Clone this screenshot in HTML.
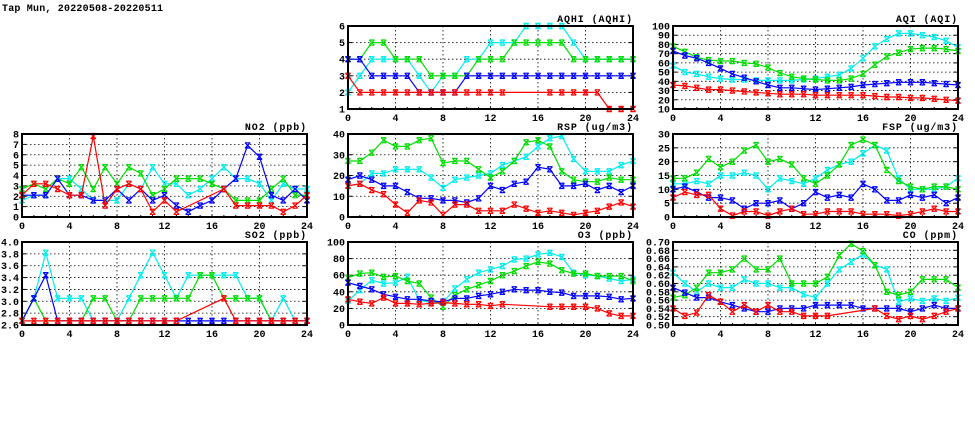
<!DOCTYPE html>
<html><head><meta charset="utf-8"><style>
html,body{margin:0;padding:0;background:#fff;width:975px;height:447px;overflow:hidden}
svg{display:block}
text{font-family:"Liberation Mono",monospace;font-weight:bold;font-size:10px;fill:#000}
text.ptitle{letter-spacing:0.9px}
</style></head><body>
<svg id="chart" width="975" height="447" xmlns="http://www.w3.org/2000/svg">
<text x="2" y="11" style="font-size:10px;letter-spacing:0.2px">Tap Mun, 20220508-20220511</text>
</svg>
<script>
const hours=[0,1,2,3,4,5,6,7,8,9,10,11,12,13,14,15,16,17,18,19,20,21,22,23,24];
const xTicks=[0,4,8,12,16,20,24];
const N=null;
const aqhiRed=[3,2,2,2,2,2,2,2,2,2,2,2,2,2,N,N,N,2,2,2,2,2,1,1,1];
const aqhiBlue=[4,4,3,3,3,3,2,2,2,2,3,3,3,3,3,3,3,3,3,3,3,3,3,3,3];
const aqhiGreen=[4,4,5,5,4,4,4,3,3,3,3,4,4,4,5,5,5,5,5,4,4,4,4,4,4];
const aqhiCyan=[2,3,4,4,4,4,3,2,3,3,4,4,5,5,5,6,6,6,6,5,4,4,4,4,4];
const aqhiTicks=[1,2,3,4,5,6];
const aqiRed=[36,35,33,31,31,30,29,28,27,26,26,26,25,25,25,25,25,24,23,23,22,22,21,20,19];
const aqiBlue=[73,68,65,60,54,48,44,40,36,33,33,32,31,32,33,34,36,37,38,39,39,39,38,37,36];
const aqiGreen=[78,72,66,63,62,62,60,59,55,49,45,43,42,41,41,43,48,58,67,71,75,76,76,75,73];
const aqiCyan=[57,50,48,45,43,42,42,41,41,41,41,42,43,45,47,54,65,78,86,92,92,90,88,84,77];
const aqiTicks=[10,20,30,40,50,60,70,80,90,100];
const no2Red=[2.1,3.2,3.2,2.7,2.1,2.1,7.8,1.1,2.7,3.2,2.7,0.5,1.6,0.5,N,N,N,2.7,1.1,1.1,1.1,1.1,0.5,1.1,2.1];
const no2Blue=[2.1,2.1,2.1,3.7,2.1,2.1,1.6,1.6,2.7,1.6,2.7,1.6,2.1,1.1,0.5,1.1,1.6,2.7,3.7,6.9,5.8,2.1,1.6,2.7,1.6];
const no2Green=[2.7,3.2,2.7,3.7,3.2,4.8,2.7,4.8,3.2,4.8,4.2,2.1,2.7,3.7,3.7,3.7,3.2,2.7,1.6,1.6,1.6,2.7,3.7,2.1,2.1];
const no2Cyan=[1.6,2.1,2.1,3.7,3.7,2.7,1.6,1.6,1.6,3.2,2.7,4.8,3.2,3.2,2.1,2.7,3.7,4.8,3.7,3.7,3.2,1.6,3.2,2.7,2.7];
const no2Ticks=[0,1,2,3,4,5,6,7,8];
const rspRed=[15,16,13,11,6,2,8,7,1,6,6,3,3,3,6,4,2,3,2,1,2,3,5,7,5];
const rspBlue=[18,20,18,15,15,12,9,9,8,8,7,9,15,13,16,17,24,23,15,15,16,13,15,12,15];
const rspGreen=[27,27,31,37,34,34,37,38,26,27,27,23,19,22,27,36,37,34,22,18,17,17,19,18,18];
const rspCyan=[15,16,21,21,23,23,23,19,14,18,19,20,21,25,27,29,34,38,39,28,22,22,22,25,27];
const rspTicks=[0,10,20,30,40];
const fspRed=[7,9,8,8,3,0.5,2,2,0.5,2,3,1,1,2,2,2,1,1,1,0.5,1,2,3,2,2];
const fspBlue=[10,11,9,7,7,6,3,5,5,6,3,5,9,7,8,7,12,10,6,6,8,7,8,5,7];
const fspGreen=[14,14,16,21,18,20,24,26,20,21,19,14,12,15,19,26,28,26,17,13,11,10,11,11,10];
const fspCyan=[12,12,13,12,15,15,16,15,10,14,13,12,14,17,19,20,23,26,24,14,10,10,10,11,14];
const fspTicks=[0,5,10,15,20,25,30];
const so2Red=[2.67,2.67,2.67,2.67,2.67,2.67,2.67,2.67,2.67,2.67,2.67,2.67,2.67,2.67,N,N,N,3.05,2.67,2.67,2.67,2.67,2.67,2.67,2.67];
const so2Blue=[2.67,3.05,3.44,2.67,2.67,2.67,2.67,2.67,2.67,2.67,2.67,2.67,2.67,2.67,2.67,2.67,2.67,2.67,2.67,2.67,2.67,2.67,2.67,2.67,2.67];
const so2Green=[2.67,3.05,2.67,2.67,2.67,2.67,3.05,3.05,2.67,2.67,3.05,3.05,3.05,3.05,3.05,3.44,3.44,3.05,3.05,3.05,3.05,2.67,2.67,2.67,2.67];
const so2Cyan=[2.67,3.05,3.82,3.05,3.05,3.05,2.67,2.67,2.67,3.05,3.44,3.82,3.44,3.05,3.44,3.44,3.44,3.44,3.44,3.05,3.05,2.67,3.05,2.67,2.67];
const so2Ticks=[2.6,2.8,3.0,3.2,3.4,3.6,3.8,4.0];
const o3Red=[31,28,26,33,26,26,25,26,27,26,25,25,23,25,N,N,N,22,22,22,22,20,14,11,11];
const o3Blue=[51,47,43,37,34,31,31,29,28,32,32,35,37,40,43,42,42,40,39,35,35,35,34,31,32];
const o3Green=[57,62,63,58,59,53,50,33,22,36,43,48,53,60,65,71,76,74,66,62,62,59,59,59,53];
const o3Cyan=[29,42,54,50,51,58,30,27,27,44,55,63,67,71,79,80,85,87,82,63,60,59,56,53,55];
const o3Ticks=[0,20,40,60,80,100];
const coRed=[0.54,0.522,0.53,0.572,0.556,0.532,0.548,0.532,0.548,0.532,0.532,0.522,0.522,0.522,N,N,N,0.54,0.522,0.514,0.522,0.514,0.522,0.532,0.54];
const coBlue=[0.59,0.578,0.566,0.566,0.556,0.548,0.54,0.532,0.532,0.54,0.54,0.54,0.548,0.548,0.548,0.548,0.54,0.54,0.54,0.54,0.532,0.54,0.548,0.54,0.54];
const coGreen=[0.566,0.572,0.59,0.626,0.626,0.634,0.66,0.634,0.634,0.66,0.60,0.60,0.60,0.616,0.668,0.696,0.678,0.644,0.58,0.572,0.58,0.61,0.61,0.61,0.59];
const coCyan=[0.626,0.60,0.58,0.60,0.59,0.59,0.61,0.60,0.60,0.59,0.59,0.574,0.566,0.60,0.634,0.652,0.67,0.644,0.634,0.556,0.564,0.558,0.564,0.558,0.566];
const coTicks=[0.50,0.52,0.54,0.56,0.58,0.60,0.62,0.64,0.66,0.68,0.70];

const NS="http://www.w3.org/2000/svg";
const svg=document.getElementById('chart');
function mk(tag,attrs,parent){const e=document.createElementNS(NS,tag);for(const k in attrs)e.setAttribute(k,attrs[k]);(parent||svg).appendChild(e);return e;}

const W=285,H=83;
const panels=[
 {id:'aqhi',title:'AQHI (AQHI)',x:348,y:26,ticks:aqhiTicks,dec:0,series:[aqhiRed,aqhiBlue,aqhiGreen,aqhiCyan]},
 {id:'aqi',title:'AQI (AQI)',x:673,y:26,ticks:aqiTicks,dec:0,series:[aqiRed,aqiBlue,aqiGreen,aqiCyan]},
 {id:'no2',title:'NO2 (ppb)',x:22,y:134,ticks:no2Ticks,dec:0,series:[no2Red,no2Blue,no2Green,no2Cyan]},
 {id:'rsp',title:'RSP (ug/m3)',x:348,y:134,ticks:rspTicks,dec:0,series:[rspRed,rspBlue,rspGreen,rspCyan]},
 {id:'fsp',title:'FSP (ug/m3)',x:673,y:134,ticks:fspTicks,dec:0,series:[fspRed,fspBlue,fspGreen,fspCyan]},
 {id:'so2',title:'SO2 (ppb)',x:22,y:242,ticks:so2Ticks,dec:1,series:[so2Red,so2Blue,so2Green,so2Cyan]},
 {id:'o3',title:'O3 (ppb)',x:348,y:242,ticks:o3Ticks,dec:0,series:[o3Red,o3Blue,o3Green,o3Cyan]},
 {id:'co',title:'CO (ppm)',x:673,y:242,ticks:coTicks,dec:2,series:[coRed,coBlue,coGreen,coCyan]}
];
const colors=['#ff0000','#0000ff','#00dd00','#00eeee'];
const cnames=['red','blue','green','cyan'];
const drawOrder=[3,2,1,0];

panels.forEach(p=>{
 const g=mk('g',{});
 
 
 const ymin=p.ticks[0],ymax=p.ticks[p.ticks.length-1];
 const xs=h=>p.x+h/24*W;
 const ys=v=>p.y+H-(v-ymin)/(ymax-ymin)*H;
 p.ticks.forEach((t,i)=>{
  const y=ys(t);
  if(i>0&&i<p.ticks.length-1){const l=mk('line',{x1:p.x,x2:p.x+W,y1:y,y2:y,stroke:'#000','stroke-width':0.8,'stroke-dasharray':'1.5,2.5'},g);
   
   }
  const tk=mk('line',{x1:p.x,x2:p.x+4,y1:y,y2:y,stroke:'#000','stroke-width':1},g);
  
  
  const tk2=mk('line',{x1:p.x+W-4,x2:p.x+W,y1:y,y2:y,stroke:'#000','stroke-width':1},g);
  
  
  const lb=mk('text',{x:p.x-3,y:y+3.5,'text-anchor':'end'},g);
  lb.textContent=t.toFixed(p.dec);
  
  
 });
 xTicks.forEach((t,i)=>{
  const x=xs(t);
  if(i>0&&i<xTicks.length-1){const l=mk('line',{x1:x,x2:x,y1:p.y,y2:p.y+H,stroke:'#000','stroke-width':0.8,'stroke-dasharray':'1.5,2.5'},g);
   
   }
  const lb=mk('text',{x:x,y:p.y+H+12,'text-anchor':'middle'},g);
  lb.textContent=String(t);
  
  
 });
 hours.forEach(h=>{
  const x=xs(h);
  const a=mk('line',{x1:x,x2:x,y1:p.y+H,y2:p.y+H-2,stroke:'#000','stroke-width':1},g);
  
  
 });
 const tt=mk('text',{x:p.x+W,y:p.y-4,'text-anchor':'end','class':'ptitle'},g);
 tt.textContent=p.title;
 
 
 drawOrder.forEach(si=>{
  const data=p.series[si];
  const sg=mk('g',{},g);
  
  
  const pts=[];
  data.forEach((v,h)=>{if(v!==null)pts.push([xs(h),ys(v)]);});
  const pl=mk('polyline',{points:pts.map(q=>q[0].toFixed(1)+','+q[1].toFixed(1)).join(' '),fill:'none',stroke:colors[si],'stroke-width':1.2},sg);
  
  
  pts.forEach(q=>{
   const s=2.6;
   const m=mk('path',{d:`M${q[0]-s},${q[1]-s}L${q[0]+s},${q[1]+s}M${q[0]+s},${q[1]-s}L${q[0]-s},${q[1]+s}M${q[0]-s},${q[1]-s}L${q[0]+s},${q[1]-s}M${q[0]-s},${q[1]+s}L${q[0]+s},${q[1]+s}`,stroke:colors[si],'stroke-width':1.2,fill:'none'},sg);
   
   
  });
 });
 const fr=mk('rect',{x:p.x,y:p.y,width:W,height:H,fill:'none',stroke:'#000','stroke-width':2},g);
 
 
});
</script>
</body></html>
